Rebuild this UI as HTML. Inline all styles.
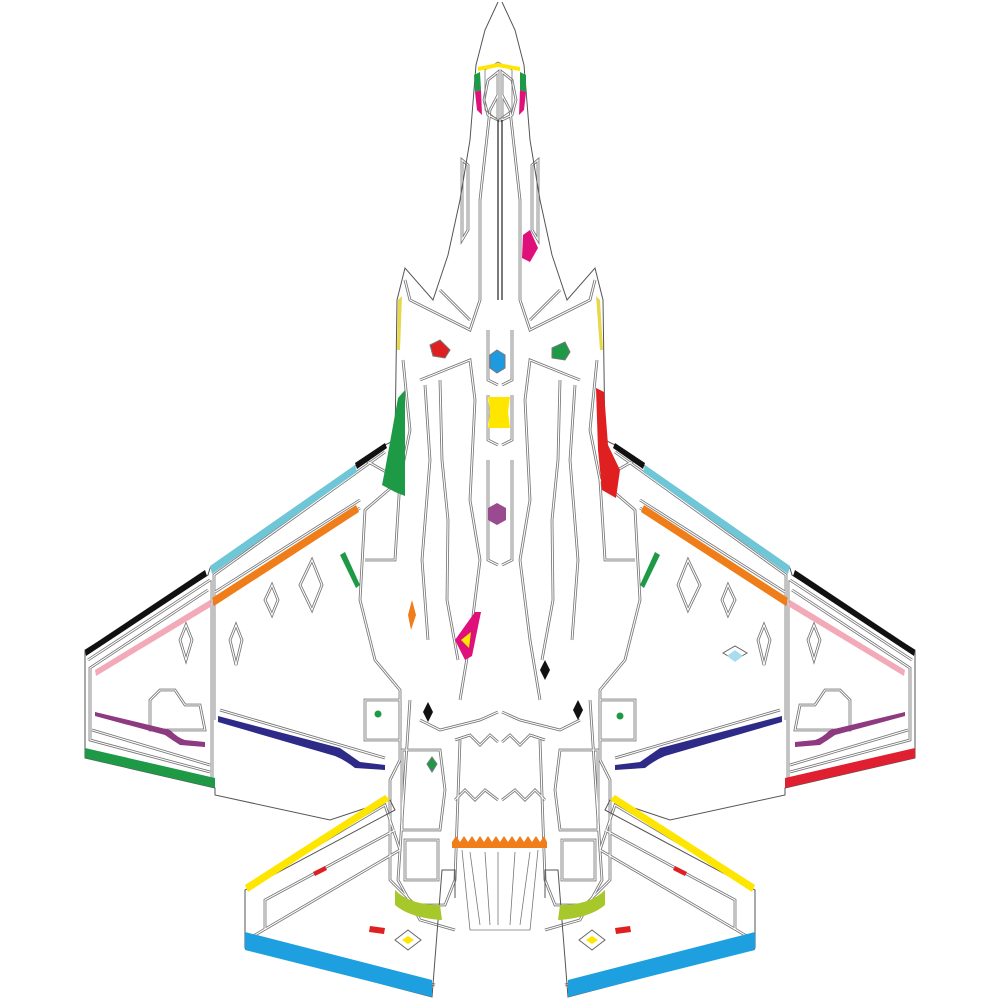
<!DOCTYPE html>
<html><head><meta charset="utf-8"><style>html,body{margin:0;padding:0;background:#fff}svg{display:block}</style></head>
<body>
<svg width="1000" height="1000" viewBox="0 0 1000 1000" xmlns="http://www.w3.org/2000/svg">
<defs>
<g id="outline">
  <path d="M498,2 L485,30 L476,65 L470,140 L460,200 L448,255 L433,300 L405,268 L397,300 L395,440 L385,445 L210,568 L208,575 L85,650 L85,758 L215,788 L215,795 L330,820 L390,800 L395,810 L245,890 L245,948 L432,997 L442,870 L455,870 L455,898"/>
</g>
<g id="inner">
  <path d="M385,452 L214,575 L214,720"/>
  <path d="M360,500 L215,592"/>
  <path d="M360,508 L215,600 M210,580 L88,660"/>
  <path d="M208,590 L90,668 L90,740 L210,772"/>
  <path d="M92,730 L210,765"/>
  <path d="M220,710 L385,758"/>
  <path d="M212,580 L212,780"/>
  <path d="M250,885 L385,805 L400,850 L255,935 L255,940 L435,985"/>
  <path d="M265,930 L265,900 L395,830"/>
  <path d="M410,700 L398,880 L420,920 L455,930"/>
  <path d="M405,280 L410,300 L470,330 L480,300 L480,200 L490,110 L498,95"/>
  <path d="M440,290 L470,320"/>
  <path d="M403,360 L410,430 L400,480 L365,510 L360,600 L375,660 L400,690 L400,760 L390,780 L390,880 L415,905 L445,905 L455,880 L460,740"/>
  <path d="M420,380 L470,360 L475,400 L470,500 L480,560 L470,640 L460,700"/>
  <path d="M440,380 L442,460 L448,520 L447,600 L458,660"/>
  <path d="M425,385 L430,460 L422,560 L428,640"/>
  <path d="M420,720 L440,730 L480,720 L498,712"/>
  <path d="M484,100 L488,80 L498,72 L498,120 L488,115 Z"/>
  <path d="M462,160 L468,165 L468,230 L462,240 Z"/>
  <path d="M488,330 L488,380 L498,385 M488,395 L488,440 L498,445 M488,460 L488,560 L498,565"/>
  <path d="M300,585 L312,560 L322,585 L312,610 Z M180,640 L186,625 L192,640 L186,660 Z"/>
  <path d="M230,640 L236,625 L242,640 L236,665 Z M265,600 L272,585 L278,600 L272,615 Z"/>
  <path d="M150,700 L160,690 L175,690 L185,705 L200,705 L205,730 L150,730 Z"/>
  <path d="M402,750 L440,750 L445,790 L440,830 L402,830 Z M405,840 L438,840 L438,880 L405,880 Z"/>
  <path d="M365,700 L400,700 L400,740 L365,740 Z"/>
  <path d="M365,460 L400,480 L395,560 L365,560"/>
  <path d="M455,740 L470,735 L480,745 L490,735 L498,742"/>
  <path d="M455,800 L465,790 L475,800 L485,790 L498,800"/>
</g>
</defs>

<g fill="none" stroke="#777" stroke-width="2.8"><use href="#inner"/><use href="#inner" transform="translate(1000,0) scale(-1,1)"/></g>
<g fill="none" stroke="#fff" stroke-width="1.1"><use href="#inner"/><use href="#inner" transform="translate(1000,0) scale(-1,1)"/></g>
<g fill="none" stroke="#555" stroke-width="1"><use href="#outline"/><use href="#outline" transform="translate(1000,0) scale(-1,1)"/></g>

<line x1="498" y1="120" x2="498" y2="300" stroke="#222" stroke-width="1.2"/>
<line x1="502" y1="120" x2="502" y2="300" stroke="#222" stroke-width="1.2"/>
<g fill="none" stroke="#777" stroke-width="0.8">
<path d="M462,850 L470,930 L530,930 L538,850"/>
<path d="M470,852 L480,925 M485,852 L490,925 M498,852 L498,925 M515,852 L510,925 M530,852 L520,925"/>
<path d="M485,70 L498,62 L512,70 L512,110 L498,120 L485,110 Z"/>
</g>

<!-- left wing strips -->
<polygon points="355,463 385,443 387,448 357,469" fill="#111"/>
<polygon points="210,566 355,465 357,472 212,574" fill="#6ec6d6"/>
<polygon points="85,650 205,570 207,576 86,656" fill="#111"/>
<polygon points="212,598 356,505 359,512 214,606" fill="#ef7d1a"/>
<polygon points="95,670 210,600 212,606 96,676" fill="#f2aab8"/>
<polygon points="85,748 215,778 215,788 85,758" fill="#1e9a46"/>
<path d="M218,716 L340,748 Q350,755 360,762 L385,765 L385,770 L355,768 Q345,760 335,756 L218,722 Z" fill="#2e2a88"/>
<path d="M95,712 L170,730 Q178,738 185,740 L205,742 L205,747 L180,745 Q172,740 165,735 L95,716 Z" fill="#8e3a80"/>
<polygon points="245,885 385,795 390,800 248,892" fill="#ffe600"/>
<polygon points="245,932 432,980 432,997 245,950" fill="#1ea0e0"/>
<polygon points="313,872 325,866 327,870 315,876" fill="#e02020"/>
<polygon points="370,926 385,928 384,934 369,932" fill="#e02020"/>
<path d="M395,890 Q410,905 440,905 L442,920 Q410,918 395,905 Z" fill="#a6c82a"/>
<polygon points="395,940 408,930 421,940 408,950" fill="none" stroke="#666"/>
<polygon points="402,940 408,936 414,940 408,944" fill="#ffe600"/>

<!-- right wing strips -->
<polygon points="645,463 615,443 613,448 643,469" fill="#111"/>
<polygon points="790,566 645,465 643,472 788,574" fill="#6ec6d6"/>
<polygon points="915,650 795,570 793,576 914,656" fill="#111"/>
<polygon points="788,598 644,505 641,512 786,606" fill="#ef7d1a"/>
<polygon points="905,670 790,600 788,606 904,676" fill="#f2aab8"/>
<polygon points="915,748 785,778 785,788 915,758" fill="#e02030"/>
<path d="M782,716 L660,748 Q650,755 640,762 L615,765 L615,770 L645,768 Q655,760 665,756 L782,722 Z" fill="#2e2a88"/>
<path d="M905,712 L830,730 Q822,738 815,740 L795,742 L795,747 L820,745 Q828,740 835,735 L905,716 Z" fill="#8e3a80"/>
<polygon points="755,885 615,795 610,800 752,892" fill="#ffe600"/>
<polygon points="755,932 568,980 568,997 755,950" fill="#1ea0e0"/>
<polygon points="687,872 675,866 673,870 685,876" fill="#e02020"/>
<polygon points="630,926 615,928 616,934 631,932" fill="#e02020"/>
<path d="M605,890 Q590,905 560,905 L558,920 Q590,918 605,905 Z" fill="#a6c82a"/>
<polygon points="605,940 592,930 579,940 592,950" fill="none" stroke="#666"/>
<polygon points="598,940 592,936 586,940 592,944" fill="#ffe600"/>
<polygon points="735,660 723,653 735,646 747,653" fill="none" stroke="#666"/>
<polygon points="735,662 727,656 735,650 743,656" fill="#a8dcef"/>

<!-- fuselage colored details -->
<polygon points="478,67 498,63 520,67 520,71 498,67 478,71" fill="#ffe600"/>
<polygon points="474,75 480,72 481,90 475,92" fill="#1e9a46"/>
<polygon points="520,72 526,75 526,92 520,90" fill="#1e9a46"/>
<polygon points="475,92 481,90 482,115 477,110" fill="#e0107a"/>
<polygon points="526,92 520,90 519,115 524,110" fill="#e0107a"/>
<polygon points="523,235 530,230 538,248 530,262 522,258" fill="#e0107a"/>
<polygon points="430,345 440,340 450,350 445,358 433,356" fill="#e02020" stroke="#777"/>
<polygon points="497,350 505,355 505,368 497,373 490,368 490,355" fill="#1e9ae0" stroke="#777"/>
<polygon points="552,348 565,342 570,352 565,360 552,358" fill="#1e9a46" stroke="#777"/>
<polygon points="488,397 510,397 508,412 510,428 488,428 490,412" fill="#ffe600"/>
<polygon points="497,503 506,508 506,520 497,525 488,520 488,508" fill="#9a4a8e"/>
<polygon points="398,398 405,390 405,496 395,492 382,485 385,470" fill="#1e9a46"/>
<polygon points="596,388 604,392 608,445 620,470 616,498 602,490 598,450" fill="#e02020"/>
<polygon points="340,555 345,552 360,585 356,588" fill="#1e9a46"/>
<polygon points="660,555 655,552 640,585 644,588" fill="#1e9a46"/>
<polygon points="455,640 475,612 481,612 472,656 465,660" fill="#e0107a"/>
<polygon points="461,640 471,632 469,648" fill="#ffe600"/>
<polygon points="412,600 416,615 411,630 408,615" fill="#ef7d1a"/>
<polygon points="428,702 433,712 428,722 423,712" fill="#111"/>
<polygon points="545,660 550,670 545,680 540,670" fill="#111"/>
<polygon points="578,700 583,710 578,720 573,710" fill="#111"/>
<polygon points="432,757 437,764 432,772 427,764" fill="#1e9a46" stroke="#777"/>
<circle cx="378" cy="714" r="3.5" fill="#1e9a46"/>
<circle cx="620" cy="716" r="3.5" fill="#1e9a46"/>
<polygon points="398,300 402,296 400,350 397,350" fill="#e6d84a"/>
<polygon points="600,300 596,296 600,350 603,350" fill="#e6d84a"/>
<path d="M452,842 L456,836 L460,842 L464,836 L468,842 L472,836 L476,842 L480,836 L484,842 L488,836 L492,842 L496,836 L500,842 L504,836 L508,842 L512,836 L516,842 L520,836 L524,842 L528,836 L532,842 L536,836 L540,842 L544,836 L547,842 L547,848 L452,848 Z" fill="#ef7d1a"/>
</svg>
</body></html>
